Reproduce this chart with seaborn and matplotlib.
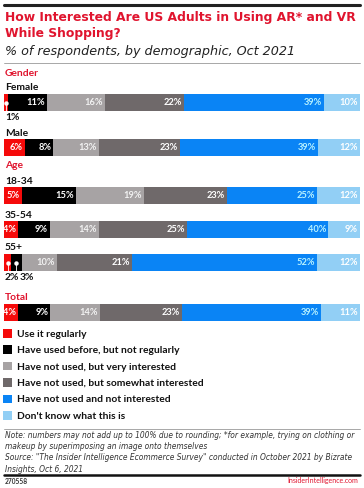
import matplotlib
matplotlib.use('Agg')
import matplotlib.pyplot as plt
from matplotlib.patches import Patch
from matplotlib.lines import Line2D
import numpy as np
import pandas as pd
import seaborn as sns

categories = ['Use it regularly', 'Have used before, but not regularly',
              'Have not used, but very interested', 'Have not used, but somewhat interested',
              'Have not used and not interested', "Don't know what this is"]
colors = ['#f50a0a', '#000000', '#a7a3a4', '#6f696a', '#0a84f5', '#92cff5']
label_colors = ['white', 'white', '#f2f2f2', 'white', '#b8f2ff', 'white']

rows = ['Female', 'Male', '18-34', '35-54', '55+', 'Total']
female = [1, 11, 16, 22, 39, 10]
male = [6, 8, 13, 23, 39, 12]
age_18_34 = [5, 15, 19, 23, 25, 12]
age_35_54 = [4, 9, 14, 25, 40, 9]
age_55_plus = [2, 3, 10, 21, 52, 12]
total = [4, 9, 14, 23, 39, 11]
values = [female, male, age_18_34, age_35_54, age_55_plus, total]

sns.set_theme(style='white')
plt.rcParams['font.family'] = ['Lato', 'DejaVu Sans']

W, H = 364, 488
fig = plt.figure(figsize=(W / 100, H / 100), dpi=100)

def fy(py):
    return 1 - py / H

def fx(px):
    return px / W

red = '#e0142e'

# rules
fig.add_artist(Line2D([fx(4), fx(360)], [fy(4.5), fy(4.5)], color='#222222', lw=2.2))
fig.add_artist(Line2D([fx(4), fx(360)], [fy(63), fy(63)], color='#999999', lw=0.6))
fig.add_artist(Line2D([fx(4), fx(360)], [fy(429), fy(429)], color='#999999', lw=0.6))
fig.add_artist(Line2D([fx(4), fx(360)], [fy(475), fy(475)], color='#111111', lw=1.8))

fig.text(fx(5), fy(17), 'How Interested Are US Adults in Using AR* and VR', family='DejaVu Sans',
         color=red, fontsize=8.9, fontweight='bold', va='center')
fig.text(fx(5), fy(34), 'While Shopping?', family='DejaVu Sans',
         color=red, fontsize=8.9, fontweight='bold', va='center')
fig.text(fx(5), fy(52), '% of respondents, by demographic, Oct 2021', family='DejaVu Sans',
         color='#222222', fontsize=9.2, style='italic', va='center')

# group headers and row labels
headers = {'Gender': 74, 'Age': 166, 'Total': 298}
for name, py in headers.items():
    fig.text(fx(5), fy(py), name, color=red, fontsize=7.4, fontweight='bold', va='center')

bar_tops = [94, 139, 187, 221, 254, 304]
label_y = {'Female': 88, 'Male': 133, '18-34': 182, '35-54': 215, '55+': 248}
for name, py in label_y.items():
    fig.text(fx(5), fy(py), name, color='#111111', fontsize=7.4, fontweight='bold', va='center')

bar_h = 17
for row, vals, top in zip(rows, values, bar_tops):
    vals = np.array(vals, dtype=float)
    ends = np.cumsum(vals) / vals.sum() * 100
    starts = ends - vals / vals.sum() * 100
    df = pd.DataFrame({'row': row, 'category': categories, 'end': ends})
    ax = fig.add_axes([fx(4), fy(top + bar_h), fx(356), bar_h / H])
    sns.barplot(data=df, x='end', y='row', hue='category', hue_order=categories[::-1],
                palette=dict(zip(categories, colors)), dodge=False, width=1,
                saturation=1, linewidth=0, legend=False, orient='h', ax=ax)
    ax.set_xlim(0, 100)
    ax.set_ylim(0.5, -0.5)
    ax.axis('off')
    for i, (v, s, e) in enumerate(zip(vals, starts, ends)):
        if v >= 4:
            ax.text(e - 0.6, 0.02, f'{int(v)}%', ha='right', va='center', color=label_colors[i],
                    fontsize=6.7, fontweight='bold')
        else:
            c = (s + e) / 2
            ax.plot([c], [0], 'o', color='white', ms=2.2, clip_on=False)
            ax.plot([c, c], [0, 0.5], color='white', lw=0.6)

# small-value labels below bars
fig.text(fx(5), fy(118), '1%', color='#111111', fontsize=7.4, fontweight='bold', va='center')
fig.text(fx(5), fy(277), '2%', color='#111111', fontsize=7.4, fontweight='bold', va='center')
fig.text(fx(20), fy(277), '3%', color='#111111', fontsize=7.4, fontweight='bold', va='center')

handles = [Patch(facecolor=c, edgecolor='none') for c in colors]
leg = fig.legend(handles, categories, loc='upper left', bbox_to_anchor=(fx(1), fy(327)),
                 frameon=False, fontsize=7.4, handlelength=0.9, handleheight=0.9,
                 handletextpad=0.5, labelspacing=0.64, borderaxespad=0, borderpad=0.2)
for t in leg.get_texts():
    t.set_fontweight('bold')
    t.set_color('#111111')

note = ('Note: numbers may not add up to 100% due to rounding; *for example, trying on clothing or\n'
        'makeup by superimposing an image onto themselves\n'
        'Source: "The Insider Intelligence Ecommerce Survey" conducted in October 2021 by Bizrate\n'
        'Insights, Oct 6, 2021')
fig.text(fx(5), fy(431), note, color='#333333', fontsize=5.45, style='italic', va='top',
         family='DejaVu Sans', linespacing=1.32)

fig.text(fx(5), fy(481), '270558', color='#333333', fontsize=4.8, fontweight='bold', va='center')
fig.text(fx(358), fy(481), 'InsiderIntelligence.com', color=red, fontsize=5, va='center', ha='right')

fig.savefig('out.png', dpi=100)
